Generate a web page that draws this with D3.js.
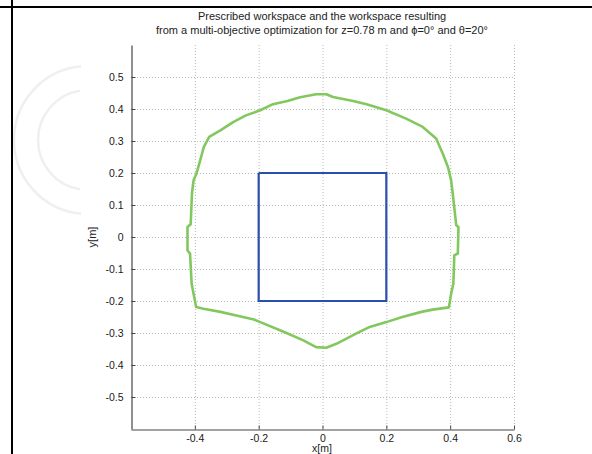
<!DOCTYPE html>
<html><head><meta charset="utf-8">
<script src="https://cdn.jsdelivr.net/npm/d3@7"></script>
<style>body{margin:0;background:#fff}svg{display:block}</style>
</head><body>
<svg id="c" width="592" height="454"></svg>
<script>
const titleLines = ["Prescribed workspace and the workspace resulting",
  "from a multi-objective optimization for z=0.78 m and \u03D5=0\u00B0 and \u03B8=20\u00B0"];
const xTicks = [-0.4, -0.2, 0, 0.2, 0.4, 0.6];
const yTicks = [0.5, 0.4, 0.3, 0.2, 0.1, 0, -0.1, -0.2, -0.3, -0.4, -0.5];
const xGrid = [-0.4, -0.2, 0, 0.2, 0.4, 0.6];
const squareX = [-0.2, 0.2, 0.2, -0.2, -0.2];
const squareY = [0.2, 0.2, -0.2, -0.2, 0.2];
const workX = [0, -0.02, -0.07, -0.11, -0.155, -0.195, -0.24, -0.28, -0.32, -0.355, -0.372, -0.383, -0.395, -0.404, -0.409, -0.413, -0.423, -0.423, -0.415, -0.41, -0.404, -0.396, -0.373, -0.32, -0.27, -0.215, -0.195, -0.12, -0.06, -0.02, 0.012, 0.045, 0.105, 0.148, 0.2, 0.25, 0.31, 0.345, 0.396, 0.403, 0.41, 0.413, 0.424, 0.426, 0.419, 0.408, 0.403, 0.393, 0.377, 0.356, 0.314, 0.262, 0.2, 0.138, 0.096, 0.033, 0.012, 0];
const workY = [0.446, 0.446, 0.437, 0.425, 0.415, 0.396, 0.38, 0.359, 0.333, 0.313, 0.281, 0.24, 0.198, 0.177, 0.136, 0.04, 0.031, -0.042, -0.052, -0.146, -0.177, -0.219, -0.224, -0.234, -0.245, -0.258, -0.266, -0.297, -0.323, -0.344, -0.346, -0.333, -0.302, -0.281, -0.266, -0.25, -0.234, -0.227, -0.22, -0.177, -0.146, -0.057, -0.052, 0.031, 0.037, 0.136, 0.177, 0.219, 0.26, 0.3075, 0.344, 0.37, 0.396, 0.415, 0.425, 0.4375, 0.446, 0.446];

const svg = d3.select("#c");
const L = 131, R = 514, T = 45, B = 429;
const x = d3.scaleLinear().domain([-0.6, 0.6]).range([L, R]);
const y = d3.scaleLinear().domain([-0.6, 0.6]).range([B, T]);
const fmt = d => String(d);

// faint watermark arcs
const wm = svg.append("g").attr("fill", "none").attr("stroke", "#efefef").attr("stroke-width", 2.5).attr("transform", "translate(88,140)");
wm.append("path").attr("d", d3.arc()({innerRadius: 74, outerRadius: 74, startAngle: Math.PI * 1.03, endAngle: Math.PI * 1.97}));
wm.append("path").attr("d", d3.arc()({innerRadius: 50, outerRadius: 50, startAngle: Math.PI * 1.05, endAngle: Math.PI * 1.95}));

// frame lines
svg.append("line").attr("x1", 0).attr("x2", 592).attr("y1", 7).attr("y2", 7).attr("stroke", "#000").attr("stroke-width", 2);
svg.append("line").attr("x1", 12).attr("x2", 12).attr("y1", 0).attr("y2", 454).attr("stroke", "#000").attr("stroke-width", 2);

// grid
const g = svg.append("g").attr("stroke", "#b8b8b8").attr("stroke-width", 1).attr("stroke-dasharray", "1,2");
g.selectAll(".gx").data(xGrid).join("line").attr("x1", d => x(d) + 0.5).attr("x2", d => x(d) + 0.5).attr("y1", T).attr("y2", B);
g.selectAll(".gy").data(yTicks).join("line").attr("y1", d => y(d) + 0.5).attr("y2", d => y(d) + 0.5).attr("x1", L).attr("x2", R);

// axes
const xAxis = d3.axisBottom(x).tickValues(xTicks).tickSizeInner(-4).tickSizeOuter(0).tickPadding(5).tickFormat(fmt);
const yAxis = d3.axisLeft(y).tickValues(yTicks).tickSizeInner(-4).tickSizeOuter(0).tickPadding(8).tickFormat(fmt);
const ax = svg.append("g").attr("transform", `translate(0,${B + 0.5})`).call(xAxis);
const ay = svg.append("g").attr("transform", `translate(${L + 0.5},0)`).call(yAxis);
[ax, ay].forEach(a => {
  a.select(".domain").attr("stroke", "#4a4440").attr("stroke-width", 1.2);
  a.selectAll(".tick line").attr("stroke", "#4a4440");
  a.selectAll("text").attr("font-family", "Liberation Sans, Arial, sans-serif").attr("font-size", 10.5).attr("fill", "#1a1a1a");
});

// workspace curve
const line = d3.line().x(d => x(d[0])).y(d => y(d[1]));
svg.append("path").datum(workX.map((v, i) => [v, workY[i]]))
  .attr("d", line).attr("fill", "none").attr("stroke", "#82c85e").attr("stroke-width", 2.6).attr("stroke-linejoin", "round");
svg.append("path").datum(squareX.map((v, i) => [v, squareY[i]]))
  .attr("d", line).attr("fill", "none").attr("stroke", "#2a4fae").attr("stroke-width", 2.2);

// title
svg.selectAll(".t").data(titleLines).join("text")
  .attr("x", 322).attr("y", (d, i) => 20 + i * 14).attr("text-anchor", "middle")
  .attr("font-family", "Liberation Sans, Arial, sans-serif").attr("font-size", 11).attr("fill", "#222").text(d => d);

// axis labels
svg.append("text").attr("transform", "translate(96,237) rotate(-90)").attr("text-anchor", "middle")
  .attr("font-family", "Liberation Sans, Arial, sans-serif").attr("font-size", 11).attr("fill", "#222").text("y[m]");
svg.append("text").attr("x", 322).attr("y", 452).attr("text-anchor", "middle")
  .attr("font-family", "Liberation Sans, Arial, sans-serif").attr("font-size", 10.5).attr("fill", "#222").text("x[m]");
</script>
</body></html>
